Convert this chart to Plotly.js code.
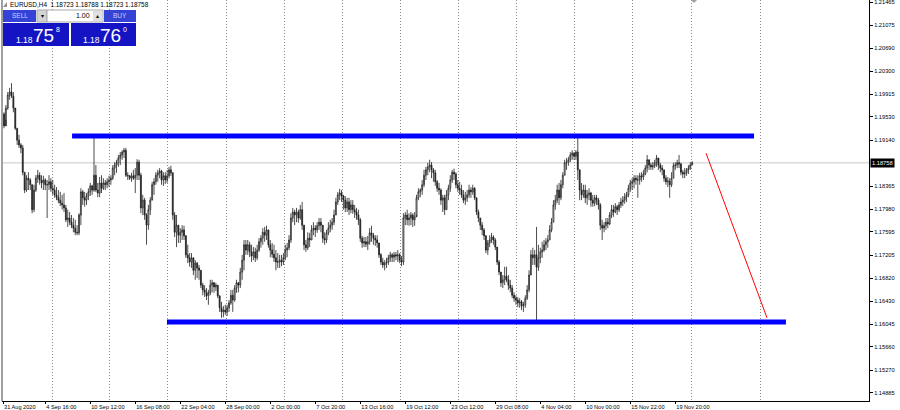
<!DOCTYPE html>
<html>
<head>
<meta charset="utf-8">
<script src="https://cdn.plot.ly/plotly-3.0.1.min.js"></script>
<style>html,body{margin:0;padding:0;background:#fff;}#chart{width:900px;height:410px;}</style>
</head>
<body>
<div id="chart"></div>
<script>
// ---- Data: EURUSD H4 bars ----
const symbolTitle = 'EURUSD,H4\u00a0\u00a01.18723 1.18788 1.18723 1.18758';

const close = [
1.1938,1.1968,1.1990,1.1995,1.1988,1.1968,1.1934,1.1914,1.1906,1.1901,
1.1860,1.1830,1.1850,1.1847,1.1839,1.1797,1.1830,1.1850,1.1855,1.1847,
1.1842,1.1847,1.1839,1.1839,1.1844,1.1833,1.1830,1.1822,1.1818,1.1813,
1.1808,1.1805,1.1800,1.1780,1.1783,1.1776,1.1771,1.1766,1.1759,1.1758,
1.1788,1.1827,1.1817,1.1813,1.1820,1.1827,1.1837,1.1830,1.1855,1.1830,
1.1825,1.1842,1.1833,1.1842,1.1839,1.1844,1.1847,1.1850,1.1867,1.1872,
1.1876,1.1884,1.1889,1.1894,1.1897,1.1855,1.1854,1.1850,1.1854,1.1850,
1.1855,1.1877,1.1855,1.1800,1.1813,1.1788,1.1771,1.1797,1.1813,1.1839,
1.1844,1.1855,1.1859,1.1862,1.1847,1.1854,1.1847,1.1854,1.1864,1.1859,
1.1788,1.1759,1.1771,1.1754,1.1759,1.1763,1.1753,1.1721,1.1716,1.1709,
1.1716,1.1695,1.1707,1.1699,1.1695,1.1670,1.1662,1.1658,1.1652,1.1657,
1.1670,1.1674,1.1667,1.1670,1.1652,1.1632,1.1625,1.1628,1.1625,1.1632,
1.1640,1.1653,1.1645,1.1665,1.1674,1.1670,1.1692,1.1712,1.1738,1.1729,
1.1738,1.1726,1.1719,1.1726,1.1716,1.1729,1.1743,1.1749,1.1759,1.1754,
1.1763,1.1738,1.1729,1.1722,1.1716,1.1709,1.1709,1.1712,1.1709,1.1716,
1.1729,1.1733,1.1746,1.1783,1.1793,1.1788,1.1793,1.1783,1.1797,1.1771,
1.1738,1.1733,1.1749,1.1746,1.1763,1.1766,1.1763,1.1770,1.1776,1.1771,
1.1749,1.1746,1.1758,1.1766,1.1771,1.1776,1.1788,1.1810,1.1822,1.1825,
1.1820,1.1813,1.1800,1.1810,1.1797,1.1805,1.1797,1.1793,1.1788,1.1780,
1.1749,1.1741,1.1743,1.1739,1.1743,1.1758,1.1754,1.1749,1.1746,1.1741,
1.1721,1.1709,1.1704,1.1707,1.1709,1.1716,1.1721,1.1717,1.1721,1.1719,
1.1721,1.1712,1.1709,1.1783,1.1788,1.1780,1.1783,1.1788,1.1780,1.1785,
1.1817,1.1827,1.1830,1.1839,1.1855,1.1864,1.1869,1.1872,1.1864,1.1859,
1.1844,1.1833,1.1830,1.1813,1.1817,1.1797,1.1822,1.1833,1.1847,1.1860,
1.1857,1.1839,1.1833,1.1830,1.1822,1.1813,1.1817,1.1822,1.1830,1.1827,
1.1833,1.1817,1.1793,1.1783,1.1771,1.1763,1.1753,1.1729,1.1741,1.1746,
1.1751,1.1746,1.1734,1.1709,1.1692,1.1674,1.1679,1.1685,1.1679,1.1670,
1.1665,1.1653,1.1648,1.1645,1.1640,1.1642,1.1635,1.1637,1.1648,1.1662,
1.1687,1.1721,1.1716,1.1721,1.1700,1.1716,1.1726,1.1729,1.1738,1.1743,
1.1746,1.1763,1.1776,1.1805,1.1813,1.1830,1.1817,1.1839,1.1855,1.1876,
1.1877,1.1881,1.1889,1.1892,1.1887,1.1894,1.1864,1.1830,1.1822,1.1830,
1.1817,1.1822,1.1825,1.1813,1.1808,1.1817,1.1813,1.1805,1.1771,1.1766,
1.1770,1.1776,1.1773,1.1788,1.1797,1.1793,1.1802,1.1797,1.1805,1.1810,
1.1813,1.1818,1.1822,1.1833,1.1842,1.1844,1.1850,1.1847,1.1847,1.1854,
1.1852,1.1857,1.1867,1.1881,1.1872,1.1869,1.1871,1.1876,1.1884,1.1872,
1.1867,1.1864,1.1850,1.1844,1.1845,1.1839,1.1850,1.1871,1.1872,1.1876,
1.1874,1.1860,1.1857,1.1859,1.1864,1.1867,1.18723,1.18758
];

const high = [
1.1961,1.1973,1.1995,1.2002,1.2010,1.1995,1.1965,1.1934,1.1923,1.1909,
1.1906,1.1860,1.1855,1.1860,1.1850,1.1839,1.1839,1.1855,1.1864,1.1860,
1.1855,1.1854,1.1850,1.1847,1.1855,1.1850,1.1847,1.1839,1.1835,1.1830,
1.1827,1.1822,1.1825,1.1805,1.1797,1.1793,1.1788,1.1783,1.1780,1.1771,
1.1791,1.1833,1.1830,1.1827,1.1825,1.1833,1.1842,1.1839,1.1918,1.1872,
1.1842,1.1852,1.1855,1.1850,1.1847,1.1850,1.1854,1.1855,1.1872,1.1877,
1.1881,1.1889,1.1894,1.1897,1.1901,1.1901,1.1860,1.1855,1.1859,1.1864,
1.1867,1.1882,1.1881,1.1859,1.1822,1.1817,1.1791,1.1805,1.1818,1.1844,
1.1850,1.1860,1.1864,1.1867,1.1864,1.1860,1.1860,1.1864,1.1869,1.1871,
1.1860,1.1793,1.1788,1.1771,1.1766,1.1771,1.1770,1.1754,1.1738,1.1724,
1.1724,1.1716,1.1712,1.1709,1.1704,1.1695,1.1674,1.1670,1.1665,1.1662,
1.1679,1.1679,1.1675,1.1674,1.1670,1.1648,1.1642,1.1635,1.1637,1.1637,
1.1645,1.1662,1.1662,1.1670,1.1679,1.1675,1.1699,1.1721,1.1746,1.1746,
1.1746,1.1743,1.1738,1.1734,1.1733,1.1738,1.1749,1.1754,1.1766,1.1768,
1.1770,1.1763,1.1746,1.1741,1.1738,1.1729,1.1724,1.1721,1.1721,1.1724,
1.1738,1.1741,1.1754,1.1791,1.1800,1.1797,1.1800,1.1797,1.1805,1.1810,
1.1771,1.1746,1.1759,1.1758,1.1771,1.1776,1.1771,1.1776,1.1783,1.1783,
1.1771,1.1759,1.1763,1.1776,1.1780,1.1783,1.1797,1.1817,1.1827,1.1832,
1.1830,1.1822,1.1820,1.1817,1.1817,1.1813,1.1813,1.1805,1.1800,1.1797,
1.1783,1.1753,1.1751,1.1751,1.1753,1.1766,1.1770,1.1758,1.1754,1.1754,
1.1741,1.1724,1.1716,1.1712,1.1716,1.1721,1.1726,1.1724,1.1726,1.1726,
1.1729,1.1724,1.1719,1.1791,1.1793,1.1797,1.1791,1.1793,1.1791,1.1793,
1.1822,1.1833,1.1833,1.1847,1.1864,1.1869,1.1876,1.1881,1.1877,1.1867,
1.1864,1.1847,1.1842,1.1833,1.1822,1.1822,1.1830,1.1839,1.1855,1.1864,
1.1866,1.1860,1.1847,1.1844,1.1839,1.1830,1.1827,1.1830,1.1839,1.1835,
1.1839,1.1835,1.1817,1.1797,1.1783,1.1776,1.1766,1.1754,1.1746,1.1754,
1.1758,1.1754,1.1749,1.1733,1.1712,1.1692,1.1687,1.1701,1.1701,1.1687,
1.1679,1.1670,1.1658,1.1653,1.1650,1.1648,1.1645,1.1642,1.1653,1.1670,
1.1695,1.1729,1.1733,1.1729,1.1768,1.1738,1.1733,1.1743,1.1746,1.1749,
1.1754,1.1771,1.1783,1.1813,1.1822,1.1839,1.1842,1.1847,1.1860,1.1881,
1.1884,1.1886,1.1894,1.1897,1.1894,1.1897,1.1919,1.1855,1.1842,1.1839,
1.1839,1.1830,1.1833,1.1827,1.1822,1.1822,1.1822,1.1817,1.1808,1.1780,
1.1776,1.1783,1.1783,1.1793,1.1805,1.1805,1.1808,1.1805,1.1810,1.1817,
1.1820,1.1825,1.1827,1.1839,1.1847,1.1850,1.1855,1.1855,1.1855,1.1859,
1.1860,1.1864,1.1872,1.1889,1.1881,1.1876,1.1877,1.1881,1.1889,1.1881,
1.1876,1.1872,1.1864,1.1855,1.1852,1.1850,1.1860,1.1876,1.1877,1.1881,
1.1889,1.1876,1.1864,1.1867,1.1867,1.1872,1.1877,1.18788
];

const low = [
1.1934,1.1948,1.1965,1.1982,1.1985,1.1961,1.1931,1.1906,1.1901,1.1892,
1.1855,1.1825,1.1827,1.1830,1.1830,1.1791,1.1793,1.1827,1.1842,1.1839,
1.1833,1.1830,1.1830,1.1783,1.1830,1.1827,1.1822,1.1817,1.1813,1.1808,
1.1803,1.1797,1.1793,1.1776,1.1768,1.1771,1.1766,1.1759,1.1754,1.1754,
1.1754,1.1771,1.1805,1.1802,1.1805,1.1813,1.1820,1.1822,1.1827,1.1827,
1.1818,1.1818,1.1825,1.1830,1.1830,1.1833,1.1835,1.1839,1.1847,1.1855,
1.1859,1.1869,1.1872,1.1881,1.1884,1.1852,1.1847,1.1847,1.1844,1.1847,
1.1825,1.1847,1.1847,1.1791,1.1788,1.1780,1.1738,1.1763,1.1788,1.1813,
1.1822,1.1839,1.1844,1.1850,1.1839,1.1837,1.1840,1.1842,1.1850,1.1854,
1.1780,1.1751,1.1734,1.1741,1.1741,1.1746,1.1746,1.1716,1.1707,1.1701,
1.1699,1.1687,1.1679,1.1682,1.1679,1.1665,1.1653,1.1650,1.1645,1.1637,
1.1653,1.1658,1.1657,1.1660,1.1648,1.1625,1.1615,1.1616,1.1620,1.1618,
1.1625,1.1637,1.1625,1.1642,1.1657,1.1658,1.1665,1.1679,1.1695,1.1721,
1.1721,1.1717,1.1709,1.1712,1.1709,1.1712,1.1726,1.1733,1.1738,1.1743,
1.1746,1.1733,1.1717,1.1716,1.1709,1.1695,1.1699,1.1699,1.1702,1.1704,
1.1712,1.1717,1.1729,1.1741,1.1776,1.1771,1.1776,1.1775,1.1780,1.1763,
1.1729,1.1726,1.1729,1.1734,1.1746,1.1754,1.1751,1.1758,1.1763,1.1759,
1.1741,1.1738,1.1741,1.1754,1.1759,1.1763,1.1771,1.1788,1.1805,1.1813,
1.1810,1.1797,1.1793,1.1793,1.1788,1.1791,1.1790,1.1783,1.1780,1.1771,
1.1743,1.1733,1.1734,1.1734,1.1729,1.1738,1.1743,1.1738,1.1736,1.1733,
1.1716,1.1704,1.1699,1.1695,1.1699,1.1704,1.1709,1.1709,1.1709,1.1712,
1.1709,1.1707,1.1702,1.1704,1.1771,1.1771,1.1770,1.1771,1.1768,1.1770,
1.1788,1.1813,1.1818,1.1822,1.1835,1.1847,1.1855,1.1860,1.1850,1.1844,
1.1837,1.1827,1.1822,1.1805,1.1793,1.1788,1.1797,1.1813,1.1827,1.1842,
1.1847,1.1833,1.1827,1.1822,1.1817,1.1808,1.1805,1.1810,1.1817,1.1817,
1.1822,1.1813,1.1788,1.1776,1.1763,1.1754,1.1746,1.1724,1.1721,1.1734,
1.1741,1.1738,1.1729,1.1704,1.1687,1.1667,1.1665,1.1670,1.1675,1.1662,
1.1658,1.1648,1.1642,1.1637,1.1633,1.1632,1.1628,1.1625,1.1632,1.1645,
1.1658,1.1687,1.1704,1.1704,1.1606,1.1694,1.1707,1.1716,1.1726,1.1729,
1.1733,1.1746,1.1759,1.1776,1.1797,1.1808,1.1805,1.1813,1.1833,1.1855,
1.1864,1.1871,1.1877,1.1881,1.1881,1.1881,1.1847,1.1813,1.1813,1.1817,
1.1808,1.1805,1.1813,1.1802,1.1802,1.1803,1.1805,1.1797,1.1763,1.1746,
1.1759,1.1763,1.1766,1.1771,1.1783,1.1785,1.1791,1.1788,1.1793,1.1800,
1.1803,1.1807,1.1810,1.1818,1.1827,1.1830,1.1833,1.1839,1.1817,1.1839,
1.1844,1.1847,1.1855,1.1860,1.1864,1.1864,1.1864,1.1867,1.1869,1.1864,
1.1860,1.1855,1.1844,1.1839,1.1835,1.1817,1.1835,1.1850,1.1864,1.1867,
1.1867,1.1855,1.1850,1.1850,1.1854,1.1857,1.1864,1.18723
];

// each H4 bar opens at the previous bar's close (first open)
const firstOpen = 1.1958;
const open = [firstOpen].concat(close.slice(0, close.length - 1));

// time-axis labels (bar index where each label sits) and week separators
const labelBars = [-0.5, 22, 46, 70, 94, 118, 142, 166, 190, 214, 238, 262, 286, 310, 334, 358];
const timeLabels = ['31 Aug 2020','4 Sep 16:00','10 Sep 12:00','16 Sep 08:00','22 Sep 04:00','28 Sep 00:00',
  '2 Oct 00:00','7 Oct 20:00','13 Oct 16:00','19 Oct 12:00','23 Oct 12:00','29 Oct 08:00',
  '4 Nov 04:00','10 Nov 00:00','15 Nov 22:00','19 Nov 20:00'];
const weekBars = [25.6, 56.5, 87, 118.4, 149.4, 180.4, 211.3, 242.3, 273.5, 304.3, 335.1, 366.4, 403.2];

// price-axis labels
const priceTicks = [1.21465,1.21075,1.20690,1.20300,1.19915,1.19530,1.19140,1.18365,1.17980,
  1.17595,1.17205,1.16820,1.16430,1.16045,1.15660,1.15270,1.14885];

// drawn objects: horizontal levels [fromBar, toBar, price] and the red trend line
const upperLevel = [36.3, 400, 1.1921];
const lowerLevel = [86.9, 417, 1.1608];
const trendBars = [374.4, 406.9];
const trendPrices = [1.1892, 1.1615];

// one-click panel quotes
const bidQuote = ['1.18', '75', '8'];
const askQuote = ['1.18', '76', '0'];
const lotSize = '1.00';

// ---- Chart ----
const FONT = 'Liberation Sans, Arial, sans-serif';
const idx = close.map((_, i) => i);
const lastPrice = close[close.length - 1];

// pixel helpers for the overlay panel (plot area: x 2..869, y 0..401)
const PX = x => (x - 2) / 867;
const PY = y => 1 - y / 401;

function rect(x0, y0, x1, y1, fill, lineColor) {
  return {type: 'rect', xref: 'paper', yref: 'paper', x0: PX(x0), x1: PX(x1), y0: PY(y1), y1: PY(y0),
    fillcolor: fill, line: {color: lineColor || fill, width: lineColor ? 1 : 0}, layer: 'above'};
}
function txt(x, y, text, size, color, xanchor) {
  return {xref: 'paper', yref: 'paper', x: PX(x), y: PY(y), text: text, showarrow: false,
    xanchor: xanchor || 'left', yanchor: 'middle', borderpad: 0,
    font: {family: FONT, size: size, color: color}};
}

const trace = {
  type: 'candlestick', x: idx, open: open, high: high, low: low, close: close,
  increasing: {line: {color: '#1e1e1e', width: 0.8}, fillcolor: '#ffffff'},
  decreasing: {line: {color: '#1e1e1e', width: 0.8}, fillcolor: '#1e1e1e'},
  whiskerwidth: 0, hoverinfo: 'skip', showlegend: false
};

const shapes = [
  // bid line
  {type: 'line', xref: 'paper', yref: 'y', x0: 0, x1: 1, y0: lastPrice, y1: lastPrice,
   line: {color: '#c8c8c8', width: 1}, layer: 'below'},
  // left border
  {type: 'line', xref: 'paper', yref: 'paper', x0: 0, x1: 0, y0: 0, y1: 1, line: {color: '#a0a0a0', width: 2}},
  // levels
  {type: 'line', xref: 'x', yref: 'y', x0: upperLevel[0], x1: upperLevel[1], y0: upperLevel[2], y1: upperLevel[2],
   line: {color: '#0000ff', width: 5}},
  {type: 'line', xref: 'x', yref: 'y', x0: lowerLevel[0], x1: lowerLevel[1], y0: lowerLevel[2], y1: lowerLevel[2],
   line: {color: '#0000ff', width: 5}},
  {type: 'line', xref: 'x', yref: 'y', x0: trendBars[0], x1: trendBars[1], y0: trendPrices[0], y1: trendPrices[1],
   line: {color: '#ff0000', width: 1}},
  // chart-shift marker at top
  {type: 'path', xref: 'paper', yref: 'paper',
   path: 'M ' + PX(691) + ' ' + PY(0) + ' L ' + PX(697) + ' ' + PY(0) + ' L ' + PX(694) + ' ' + PY(3) + ' Z',
   fillcolor: '#a0a0a0', line: {width: 0}},
  // header icon
  {type: 'path', xref: 'paper', yref: 'paper',
   path: 'M ' + PX(3) + ' ' + PY(7) + ' L ' + PX(7) + ' ' + PY(7) + ' L ' + PX(7) + ' ' + PY(2) + ' Z',
   fillcolor: '#909090', line: {width: 0}},
  // one-click trading panel
  rect(3, 10, 36, 22, '#3442d6'),
  rect(37, 10, 47, 22, '#d4d4d4', '#a8a8a8'),
  rect(47, 10, 103, 22, '#ffffff', '#a8a8a8'),
  rect(93, 11, 102, 21, '#e0e0e0'),
  rect(104, 10, 136, 22, '#3442d6'),
  rect(3, 23, 69, 46, '#1414c4'),
  rect(71, 23, 136, 46, '#1414c4')
];

const annotations = [
  txt(9, 4.5, symbolTitle, 6.4, '#000000'),
  txt(20, 16, 'SELL', 6.5, '#c8d0ff', 'center'),
  txt(42, 16, '\u25BE', 6, '#000000', 'center'),
  txt(91, 16, lotSize, 7, '#000000', 'right'),
  txt(97.5, 16, '\u25B4', 6, '#000000', 'center'),
  txt(120, 16, 'BUY', 6.5, '#c8d0ff', 'center'),
  txt(15, 39.5, bidQuote[0], 8.5, '#ffffff'),
  txt(32, 35, bidQuote[1], 19, '#ffffff'),
  txt(55, 29.5, bidQuote[2], 7, '#ffffff'),
  txt(82, 39.5, askQuote[0], 8.5, '#ffffff'),
  txt(99, 35, askQuote[1], 19, '#ffffff'),
  txt(122, 29.5, askQuote[2], 7, '#ffffff'),
  // current price tag on the price scale
  {xref: 'paper', yref: 'y', x: 1, y: lastPrice, xanchor: 'left', yanchor: 'middle', xshift: 1,
   text: lastPrice.toFixed(5), showarrow: false, bgcolor: '#000000', borderpad: 1,
   font: {family: FONT, size: 5.7, color: '#ffffff'}}
];

const layout = {
  width: 900, height: 410,
  margin: {l: 2, r: 31, t: 0, b: 9, pad: 0},
  paper_bgcolor: '#ffffff', plot_bgcolor: '#ffffff',
  showlegend: false, hovermode: false, dragmode: false,
  font: {family: FONT, size: 6, color: '#000000'},
  xaxis: {
    type: 'linear', range: [-1.07, 461.3], fixedrange: true, automargin: false,
    rangeslider: {visible: false},
    showgrid: false, zeroline: false,
    showline: true, linecolor: '#000000', linewidth: 1,
    tickmode: 'array', tickvals: labelBars, ticktext: timeLabels,
    ticks: 'outside', ticklen: 2, tickwidth: 1, tickcolor: '#000000',
    ticklabelposition: 'outside right', ticklabeloverflow: 'allow',
    tickfont: {family: FONT, size: 5.6, color: '#000000'},
    minor: {tickmode: 'array', tickvals: weekBars, showgrid: true, gridcolor: '#8a8a8a',
            griddash: '1px,2px', gridwidth: 1, ticks: ''}
  },
  yaxis: {
    side: 'right', range: [1.14750, 1.21499], fixedrange: true, automargin: false,
    showgrid: false, zeroline: false,
    showline: true, linecolor: '#000000', linewidth: 1,
    tickmode: 'array', tickvals: priceTicks, ticktext: priceTicks.map(v => v.toFixed(5)),
    ticks: 'outside', ticklen: 3, tickwidth: 1, tickcolor: '#000000',
    ticklabeloverflow: 'allow',
    tickfont: {family: FONT, size: 5.7, color: '#000000'}
  },
  shapes: shapes,
  annotations: annotations
};

Plotly.newPlot('chart', [trace], layout, {displayModeBar: false, staticPlot: true});
</script>
</body>
</html>
